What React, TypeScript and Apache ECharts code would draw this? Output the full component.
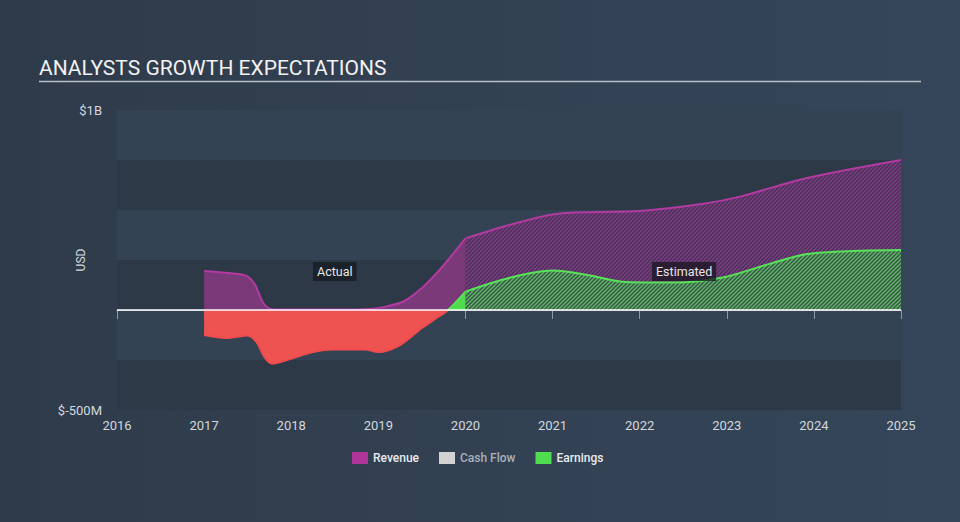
import React, { useEffect, useRef } from 'react';
import * as echarts from 'echarts';

// ---- data (values in USD millions, x in fractional years) ----
const xMin = 2016;
const xMax = 2025;
const yMin = -500;
const yMax = 1000;
const yStep = 250;
const legendNames = ['Revenue', 'Cash Flow', 'Earnings'];

const revenueActual: [number, number][] = [
  [2017.0, 195], [2017.25, 186], [2017.48, 172], [2017.58, 130], [2017.68, 35],
  [2017.78, 4], [2018.0, 2], [2018.5, 2], [2018.9, 5], [2019.1, 18],
  [2019.3, 45], [2019.5, 110], [2019.65, 175], [2019.8, 250], [2020.0, 358],
];
const revenueEstimated: [number, number][] = [
  [2020.0, 358], [2020.5, 425], [2021.0, 478], [2021.5, 490], [2022.0, 495],
  [2022.75, 533], [2023.15, 567], [2023.9, 658], [2025.0, 750],
];
const earningsActual: [number, number][] = [
  [2017.0, -125], [2017.25, -140], [2017.5, -128], [2017.6, -160], [2017.7, -240],
  [2017.78, -268], [2017.95, -250], [2018.25, -210], [2018.5, -198], [2018.85, -198],
  [2019.0, -210], [2019.25, -175], [2019.5, -90], [2019.65, -45], [2019.8, 0], [2020.0, 92],
];
const earningsEstimated: [number, number][] = [
  [2020.0, 92], [2020.5, 160], [2021.0, 197], [2021.4, 175], [2021.85, 140],
  [2022.4, 137], [2022.95, 162], [2023.5, 232], [2023.92, 280], [2024.5, 296], [2025.0, 300],
];
const cashFlow: [number, number][] = [];
const annotations = [
  { text: 'Actual', coord: [2018.5, 192] },
  { text: 'Estimated', coord: [2022.51, 192] },
];

// ---- layout ----
const W = 960;
const H = 522;
const GRID = { left: 117, right: 59, top: 110, bottom: 112 };

function hatch(bg: string, fg: string) {
  const s = 4;
  const c = document.createElement('canvas');
  c.width = s;
  c.height = s;
  const ctx = c.getContext('2d')!;
  ctx.fillStyle = bg;
  ctx.fillRect(0, 0, s, s);
  ctx.strokeStyle = fg;
  ctx.lineWidth = 1.3;
  ctx.beginPath();
  ctx.moveTo(-1, s + 1); ctx.lineTo(s + 1, -1);
  ctx.moveTo(-1, 1); ctx.lineTo(1, -1);
  ctx.moveTo(s - 1, s + 1); ctx.lineTo(s + 1, s - 1);
  ctx.stroke();
  return { image: c, repeat: 'repeat', imageWidth: s, imageHeight: s } as any;
}

export default function App() {
  const ref = useRef<HTMLDivElement>(null);
  useEffect(() => {
    if (!ref.current) return;
    const chart = echarts.init(ref.current, null, { renderer: 'svg' });
    const plotH = H - GRID.top - GRID.bottom;
    const zeroY = GRID.top + (plotH * (yMax - 0)) / (yMax - yMin);
    const off = zeroY / H;
    const green = '#4fdc4f';
    const red = '#ee5352';
    const splitFill = {
      type: 'linear', x: 0, y: 0, x2: 0, y2: H, global: true,
      colorStops: [
        { offset: 0, color: green }, { offset: off, color: green },
        { offset: off, color: red }, { offset: 1, color: red },
      ],
    };
    const splitLine = {
      type: 'linear', x: 0, y: 0, x2: 0, y2: H, global: true,
      colorStops: [
        { offset: 0, color: '#58e258' }, { offset: off, color: '#58e258' },
        { offset: off, color: '#f24b4b' }, { offset: 1, color: '#f24b4b' },
      ],
    };
    const labelStyle = {
      show: true,
      position: 'inside',
      color: '#e6e6e6',
      fontSize: 12.5,
      fontFamily: 'Roboto',
      padding: [3, 4],
    };
    const smooth = 0.3;
    chart.setOption({
      animation: false,
      backgroundColor: {
        type: 'linear', x: 0, y: 0, x2: 1, y2: 0,
        colorStops: [{ offset: 0, color: '#2f3b4a' }, { offset: 1, color: '#35465a' }],
      },
      textStyle: { fontFamily: 'Roboto' },
      title: {
        text: 'ANALYSTS GROWTH EXPECTATIONS',
        left: 34,
        top: 52,
        textStyle: { color: '#f2f2f2', fontSize: 21, fontWeight: 'normal', fontFamily: 'Roboto' },
      },
      graphic: [
        {
          type: 'line',
          shape: { x1: 39, y1: 81.5, x2: 921, y2: 81.5 },
          style: { stroke: '#b9bfc7', lineWidth: 1.5 },
          silent: true,
        },
      ],
      legend: {
        data: [
          { name: legendNames[0] },
          { name: legendNames[1], textStyle: { color: '#a9b1ba' } },
          { name: legendNames[2] },
        ],
        left: 347,
        top: 447,
        icon: 'rect',
        itemWidth: 16,
        itemHeight: 12,
        itemGap: 20,
        textStyle: { color: '#e8ebee', fontSize: 12, fontWeight: 500, fontFamily: 'Roboto' },
        selectedMode: false,
      },
      grid: { ...GRID, containLabel: false },
      xAxis: {
        type: 'value',
        min: xMin,
        max: xMax,
        interval: 1,
        axisLine: { show: true, lineStyle: { color: '#8c9aab', width: 1 } },
        axisTick: { show: true, length: 9, lineStyle: { color: '#8c9aab' } },
        axisLabel: { color: '#d3d8de', fontSize: 13, margin: 9, formatter: (v: number) => String(v) },
        splitLine: { show: false },
      },
      yAxis: {
        type: 'value',
        min: yMin,
        max: yMax,
        interval: yStep,
        name: 'USD',
        nameLocation: 'middle',
        nameRotate: 90,
        nameGap: 30,
        nameMoveOverlap: false,
        nameTextStyle: { color: '#d3d8de', fontSize: 12 },
        axisLine: { show: false },
        axisTick: { show: false },
        axisLabel: {
          color: '#d3d8de',
          fontSize: 13,
          margin: 15,
          formatter: (v: number) => (v === yMax ? '$1B' : v === yMin ? '$-500M' : ''),
        },
        splitLine: { show: false },
        splitArea: { show: true, areaStyle: { color: ['#2d3947', '#334353'] } },
      },
      series: [
        {
          name: 'Revenue',
          type: 'line',
          data: revenueEstimated,
          smooth,
          symbol: 'none',
          z: 1,
          color: '#b0359b',
          lineStyle: { color: '#b23aa0', width: 2 },
          areaStyle: { color: hatch('#423553', '#87398a'), opacity: 1 },
        },
        {
          name: 'Earnings',
          type: 'line',
          data: earningsEstimated,
          smooth,
          symbol: 'none',
          z: 1,
          color: green,
          lineStyle: { color: '#58e258', width: 2 },
          areaStyle: { color: hatch('#3e5253', '#5bbd5b'), opacity: 1 },
          markPoint: {
            symbol: 'rect',
            symbolSize: 0,
            silent: true,
            data: [
              {
                coord: annotations[1].coord,
                label: { ...labelStyle, formatter: annotations[1].text, backgroundColor: 'rgba(28,22,34,0.78)' },
              },
            ],
          },
        },
        {
          name: 'zero',
          type: 'line',
          data: [],
          z: 2,
          markLine: {
            silent: true,
            symbol: 'none',
            label: { show: false },
            lineStyle: { color: '#ffffff', width: 1.5, type: 'solid' },
            data: [{ yAxis: 0 }],
          },
        },
        {
          name: 'Revenue',
          type: 'line',
          data: revenueActual,
          smooth,
          symbol: 'none',
          z: 3,
          color: '#b0359b',
          lineStyle: { color: '#b23aa0', width: 2 },
          areaStyle: { color: '#7a3978', opacity: 1 },
        },
        {
          name: 'Earnings',
          type: 'line',
          data: earningsActual,
          smooth,
          symbol: 'none',
          z: 3,
          color: green,
          lineStyle: { color: splitLine, width: 2 },
          areaStyle: { color: splitFill, opacity: 1 },
          markPoint: {
            symbol: 'rect',
            symbolSize: 0,
            silent: true,
            data: [
              {
                coord: annotations[0].coord,
                label: { ...labelStyle, formatter: annotations[0].text, backgroundColor: '#1b2129' },
              },
            ],
          },
        },
        {
          name: 'Cash Flow',
          type: 'line',
          data: cashFlow,
          color: '#d2d2d2',
          symbol: 'none',
        },
      ],
    } as any);
    return () => chart.dispose();
  }, []);
  return (
    <div
      ref={ref}
      style={{ position: 'fixed', left: 0, top: 0, width: W, height: H }}
    />
  );
}
